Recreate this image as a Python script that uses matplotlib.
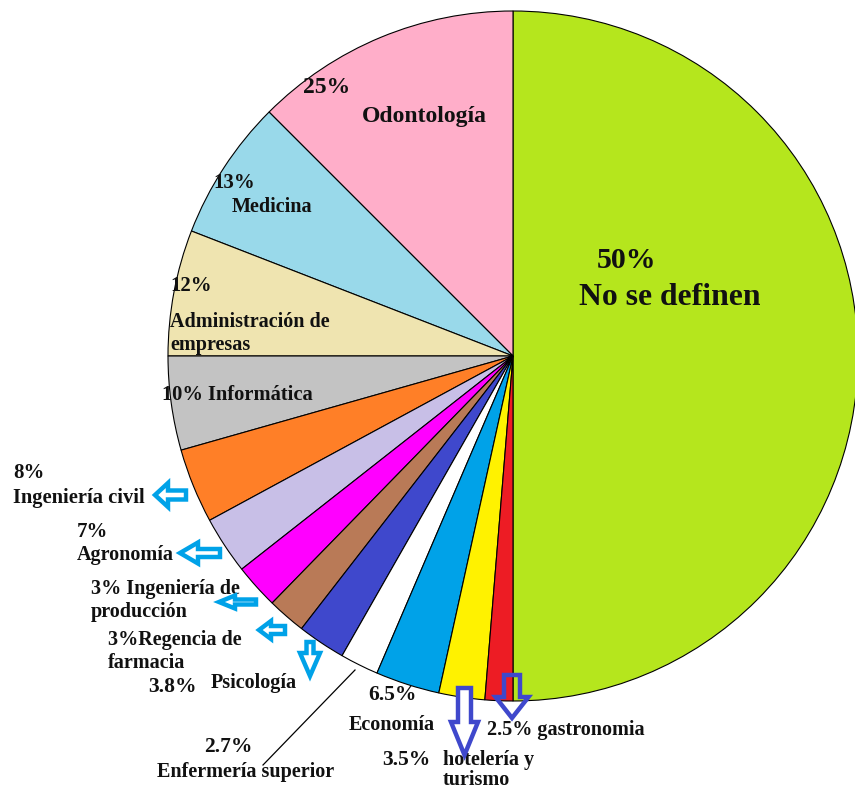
import matplotlib.pyplot as plt
from matplotlib.patches import FancyArrow

W, H = 855, 790

careers = ["No se definen", "Odontología", "Medicina", "Administración de empresas",
           "Informática", "Ingeniería civil", "Agronomía", "Ingeniería de producción",
           "Regencia de farmacia", "Psicología", "Enfermería superior", "Economía",
           "hotelería y turismo", "gastronomia"]
# wedge sizes as drawn (share of the full circle, %)
slice_share = [50, 12.5, 6.6, 5.9, 4.4, 3.5, 2.7, 2.1, 1.8, 2.25, 1.8, 3.0, 2.15, 1.3]
# percentages written next to each career
pct_text = ["50%", "25%", "13%", "12%", "10%", "8%", "7%", "3%", "3%",
            "3.8%", "2.7%", "6.5%", "3.5%", "2.5%"]
colors = ["#b5e61d", "#ffaec9", "#99d9ea", "#efe4b0", "#c3c3c3", "#ff7f27", "#c8bfe7",
          "#ff00ff", "#b97a57", "#3f48cc", "#ffffff", "#00a2e8", "#fff200", "#ed1c24"]

CX, CY, R = 513, 356, 345  # pie centre / radius in image pixels


def flip(y):
    return H - y


fig = plt.figure(figsize=(W / 100, H / 100), dpi=100)
ax = fig.add_axes([0, 0, 1, 1])
ax.pie(slice_share, colors=colors, startangle=-90, counterclock=True,
       center=(CX, flip(CY)), radius=R, frame=True,
       wedgeprops=dict(edgecolor="black", linewidth=0.8))
ax.set_xlim(0, W)
ax.set_ylim(0, H)
ax.set_aspect("equal")
ax.axis("off")

font = dict(family="Liberation Serif", weight="bold", color="#111111")

# (text, left x, baseline y, size)
labels = [
    (pct_text[0], 597, 268, 21.5),
    (careers[0], 579, 305, 22.8),
    (pct_text[1], 303, 93, 17),
    (careers[1], 362, 122, 17),
    (pct_text[2], 213, 188, 15),
    (careers[2], 232, 212, 14.5),
    (pct_text[3], 170, 291, 15),
    ("Administración de", 170, 327, 14.5),
    ("empresas", 170, 350, 14.5),
    (pct_text[4] + " " + careers[4], 162, 400, 14.8),
    (pct_text[5], 13, 478, 15),
    (careers[5], 13, 503, 14.8),
    (pct_text[6], 77, 537, 15),
    (careers[6], 77, 560, 14.5),
    (pct_text[7] + " Ingeniería de", 91, 594, 14.5),
    ("producción", 91, 617, 14.5),
    (pct_text[8] + "Regencia de", 108, 645, 14.5),
    ("farmacia", 108, 668, 14.5),
    (pct_text[9], 148, 692, 15.5),
    (careers[9], 211, 688, 14.5),
    (pct_text[11], 368, 700, 15.5),
    (careers[11], 349, 730, 14.5),
    (pct_text[10], 204, 752, 15.5),
    (careers[10], 157, 777, 14.5),
    (pct_text[12], 382, 765, 15.5),
    ("hotelería y", 443, 765, 14.5),
    ("turismo", 443, 785, 14.5),
    (pct_text[13] + " " + careers[13], 487, 735, 14.5),
]
for s, x, y, size in labels:
    ax.text(x, flip(y), s, fontsize=size, ha="left", va="baseline", **font)

# leader line for Enfermería superior
ax.plot([355, 263], [flip(670), flip(765)], color="black", linewidth=0.9)

# hollow callout arrows: tail, tip, body width, head width, head length, colour, fill
arrows = [
    ((186, 495), (155, 495), 9, 24, 13, "#00a2e8", "white"),
    ((220, 553), (180, 553), 8, 21, 18, "#00a2e8", "white"),
    ((256, 602), (219, 602), 5, 13, 16, "#00a2e8", "white"),
    ((285, 630), (259, 630), 8, 18, 12, "#00a2e8", "white"),
    ((310, 642), (310, 676), 7, 20, 23, "#00a2e8", "white"),
    ((464.5, 688), (464.5, 755), 13, 27, 33, "#3f48cc", "white"),
    ((512, 675), (512, 718), 16, 33, 21, "#3f48cc", "none"),
]
for (x0, y0), (x1, y1), bw, hw, hl, ec, fc in arrows:
    ax.add_patch(FancyArrow(x0, flip(y0), x1 - x0, flip(y1) - flip(y0), width=bw,
                            head_width=hw, head_length=hl, length_includes_head=True,
                            edgecolor=ec, facecolor=fc, linewidth=3.2, zorder=5))

fig.savefig("out.png", dpi=100)
